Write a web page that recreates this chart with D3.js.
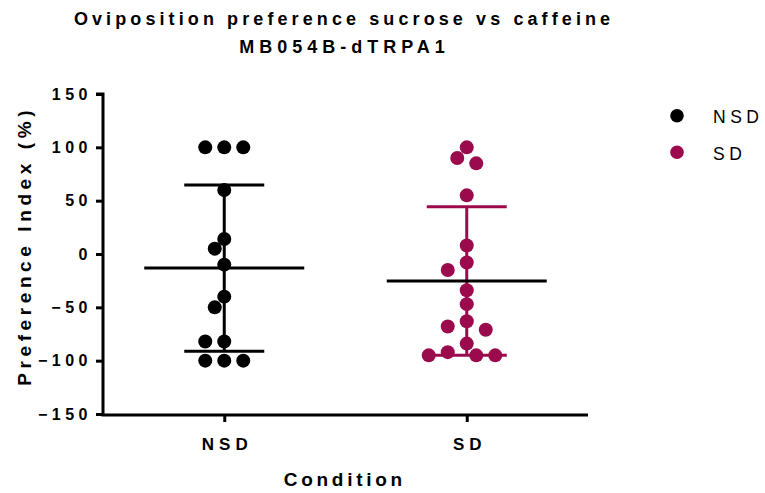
<!DOCTYPE html>
<html>
<head>
<meta charset="utf-8">
<script src="https://cdn.jsdelivr.net/npm/d3@7"></script>
<style>
  body { margin: 0; background: #fff; }
  text { font-family: "Liberation Sans", Arial, sans-serif; }
</style>
</head>
<body>
<div id="chart"></div>
<script>
// Données
const groups = ["NSD", "SD"];
const colors = ["#000000", "#9c0a4e"];
const nsdValues = [100, 100, 100, 60, 14, 5, -10, -40, -50, -82, -82, -100, -100, -100];
const sdValues = [100, 90, 85, 55, 8, -8, -15, -34, -47, -63, -68, -71, -84, -92, -95, -95, -95];
const yTicks = [-150, -100, -50, 0, 50, 100, 150];
const titleLines = ["Oviposition preference sucrose vs caffeine", "MB054B-dTRPA1"];

const W = 765, H = 493;
const plot = { left: 103, right: 588, top: 94, bottom: 414 };
const r = 7;

const svg = d3.select("#chart").append("svg")
    .attr("width", W)
    .attr("height", H);

const x = d3.scalePoint().domain(groups).range([plot.left, plot.right]).padding(0.5);
const y = d3.scaleLinear().domain([-150, 150]).range([plot.bottom, plot.top]);

// Titre (espacement des lettres propre à chaque ligne)
const titleSpacing = [4.1, 5.0];
svg.selectAll(".title")
    .data(titleLines)
    .enter()
    .append("text")
    .attr("x", (d, i) => 342 + titleSpacing[i] / 2)
    .attr("y", (d, i) => 25 + i * 28)
    .attr("text-anchor", "middle")
    .style("font-weight", "bold")
    .style("font-size", "18px")
    .style("letter-spacing", (d, i) => titleSpacing[i] + "px")
    .text(d => d);

// Axe Y
const yAxis = svg.append("g")
    .attr("transform", `translate(${plot.left},0)`)
    .call(d3.axisLeft(y).tickValues(yTicks).tickSize(7).tickPadding(4).tickFormat(d3.format("d")));
yAxis.select(".domain").attr("d", `M-7,${plot.top}H0V${plot.bottom + 1.5}`).attr("stroke-width", 3);
yAxis.selectAll(".tick line").attr("stroke-width", 3);
yAxis.selectAll(".tick text")
    .style("font-weight", "bold")
    .style("font-size", "16px")
    .style("letter-spacing", "4.5px")
    .attr("fill", "#000");

// Axe X
const xAxis = svg.append("g")
    .attr("transform", `translate(0,${plot.bottom + 1})`)
    .call(d3.axisBottom(x).tickSize(7));
xAxis.select(".domain").attr("d", `M${plot.left - 1.5},0H${plot.right}`).attr("stroke-width", 3);
xAxis.selectAll(".tick line").attr("stroke-width", 3);
xAxis.selectAll(".tick text")
    .attr("y", 35)
    .attr("dy", null)
    .attr("dx", 2.5)
    .style("font-weight", "bold")
    .style("font-size", "17px")
    .style("letter-spacing", "5px")
    .attr("fill", "#000");

// Titres des axes
svg.append("text")
    .attr("transform", `translate(31,${243.5 + 2.3}) rotate(-90)`)
    .attr("text-anchor", "middle")
    .style("font-weight", "bold")
    .style("font-size", "19px")
    .style("letter-spacing", "4.6px")
    .text("Preference Index (%)");

svg.append("text")
    .attr("x", 343 + 1.8)
    .attr("y", 486)
    .attr("text-anchor", "middle")
    .style("font-weight", "bold")
    .style("font-size", "19px")
    .style("letter-spacing", "3.7px")
    .text("Condition");

// Placement en essaim (beeswarm) simple
function swarm(values, cx) {
    const step = 9.5, minDist = 13.5;
    const placed = [];
    values.slice().sort((a, b) => b - a).forEach(v => {
        const py = y(v);
        for (let k = 0; k < 40; k++) {
            const off = k === 0 ? 0 : (k % 2 ? -1 : 1) * Math.ceil(k / 2) * step;
            const ok = placed.every(p => Math.hypot(p.x - (cx + off), p.y - py) >= minDist);
            if (ok) { placed.push({ x: cx + off, y: py, v: v }); break; }
        }
    });
    return placed;
}

const data = [nsdValues, sdValues];

data.forEach((vals, gi) => {
    const cx = x(groups[gi]);
    const g = svg.append("g");
    const pts = swarm(vals, cx);

    g.selectAll("circle")
        .data(pts)
        .enter()
        .append("circle")
        .attr("cx", d => d.x)
        .attr("cy", d => d.y)
        .attr("r", r)
        .attr("fill", colors[gi]);

    const mean = d3.mean(vals), sd = d3.deviation(vals);

    // Barre d'erreur (moyenne ± écart-type)
    g.append("line")
        .attr("x1", cx).attr("x2", cx)
        .attr("y1", y(mean + sd)).attr("y2", y(mean - sd))
        .attr("stroke", colors[gi]).attr("stroke-width", 3);
    [mean + sd, mean - sd].forEach(v => {
        g.append("line")
            .attr("x1", cx - 40).attr("x2", cx + 40)
            .attr("y1", y(v)).attr("y2", y(v))
            .attr("stroke", colors[gi]).attr("stroke-width", 3);
    });

    // Moyenne
    g.append("line")
        .attr("x1", cx - 80).attr("x2", cx + 80)
        .attr("y1", y(mean)).attr("y2", y(mean))
        .attr("stroke", "#000").attr("stroke-width", 3);
});

// Légende
const legend = svg.append("g")
    .selectAll("g")
    .data(groups)
    .enter()
    .append("g")
    .attr("transform", (d, i) => `translate(677,${115.7 + i * 36.6})`);
legend.append("circle")
    .attr("r", 6.8)
    .attr("fill", (d, i) => colors[i]);
legend.append("text")
    .attr("x", 36)
    .attr("y", 7.3)
    .style("font-size", "17.5px")
    .style("letter-spacing", "4.5px")
    .text(d => d);
</script>
</body>
</html>
